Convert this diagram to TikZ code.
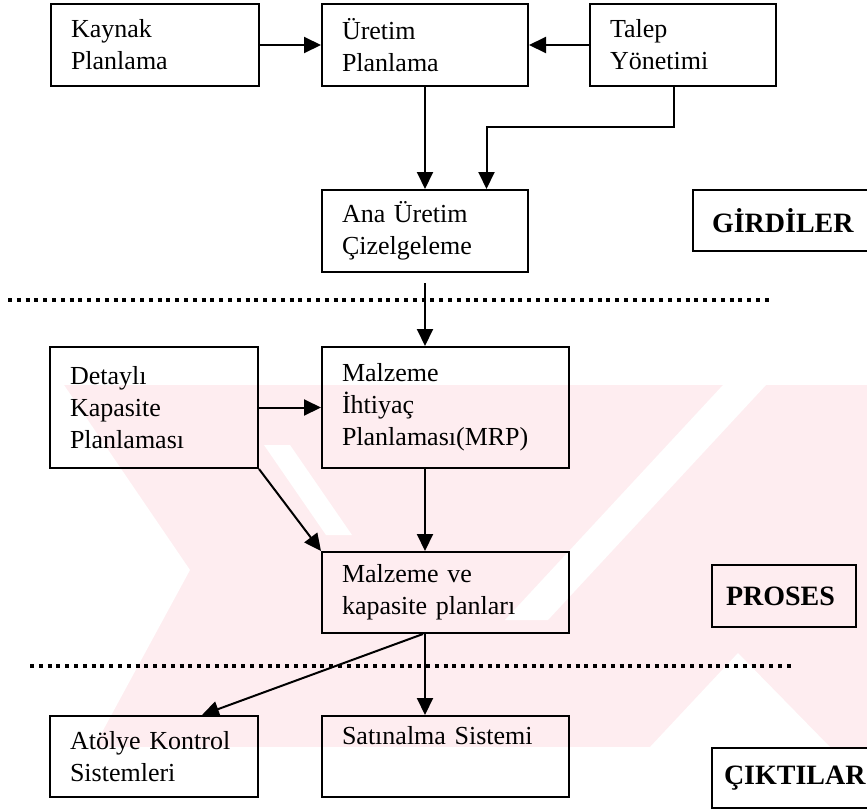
\documentclass[tikz,border=0pt]{standalone}
\usepackage{fontspec}
\setmainfont{Liberation Serif}
\usetikzlibrary{positioning,arrows.meta}
\definecolor{wmpink}{RGB}{254,237,240}
\tikzset{
  >={Triangle[length=8.5pt,width=8pt]},
  blok/.style={draw,line width=1pt,rectangle,align=left,anchor=north west,
    inner xsep=10pt,inner ysep=0pt,minimum height=41pt,
    font=\fontsize{13}{16}\selectfont},
  etiket/.style={draw,line width=1pt,rectangle,align=left,anchor=north west,
    inner ysep=0pt,minimum height=30.5pt,
    font=\fontsize{14}{16}\selectfont\bfseries},
  ayrac/.style={line width=1.8pt,dash pattern=on 2pt off 2.4pt},
  ok/.style={->,line width=1pt},
}

\begin{document}
\begin{tikzpicture}[x=0.5pt,y=-0.5pt]
  \useasboundingbox (0,0) rectangle (867,809);
  \clip (0,0) rectangle (867,809);
  % soluk filigran
  \fill[wmpink] (63,385) rectangle (867,747);
  \fill[white] (55,385) -- (64,385) -- (190,570) -- (94,747) -- (55,747) -- cycle;
  \fill[white] (264,445) -- (290,445) -- (352,535) -- (326,535) -- cycle;
  \fill[white] (723,385) -- (766,385) -- (548,620) -- (505,620) -- cycle;
  \fill[white] (738,653) -- (830,747) -- (650,747) -- cycle;

  % girdiler
  \node[blok,text width=84pt] (K) at (50,3) {Kaynak\\Planlama};
  \node[blok,text width=83pt,right=30.5pt of K,anchor=west] (U) {Üretim\\Planlama};
  \node[blok,text width=73pt,right=30pt of U,anchor=west] (T) {Talep\\Yönetimi};
  \node[blok,text width=83pt,below=51pt of U.south west,anchor=north west] (A) {Ana Üretim\\Çizelgeleme};
  \node[etiket,text width=76.5pt,inner xsep=9.5pt,right=81.5pt of A.north east,anchor=north west] (G) {GİRDİLER};

  % proses
  \node[blok,text width=103.5pt,minimum height=60.5pt,below=36.5pt of A.south west,anchor=north west] (M) {Malzeme\\İhtiyaç\\Planlaması(MRP)};
  \node[blok,text width=84pt,minimum height=60.5pt,left=31pt of M,anchor=east] (D) {Detaylı\\Kapasite\\Planlaması};
  \node[blok,text width=103.5pt,minimum height=40.5pt,below=41pt of M.south west,anchor=north west] (P) {Malzeme ve\\kapasite planları};
  \node[etiket,text width=58pt,inner xsep=7pt,minimum height=31pt] (PR) at (711,564) {PROSES};

  % çıktılar
  \node[blok,text width=103.5pt,minimum height=40.5pt,below=40.5pt of P.south west,anchor=north west] (S) {Satınalma Sistemi\\\strut};
  \node[blok,text width=84pt,minimum height=40.5pt,left=31pt of S,anchor=east] (AK) {Atölye Kontrol\\Sistemleri};
  \node[etiket,text width=72.5pt,inner xsep=6pt,minimum height=30pt] (C) at (711,747) {ÇIKTILAR};

  % ayraçlar
  \draw[ayrac] (8,300) -- (772,300);
  \draw[ayrac] (30,666) -- (793,666);

  % oklar
  \draw[ok] (K) -- (U);
  \draw[ok] (T) -- (U);
  \draw[ok] (U) -- (A);
  \draw[ok] ([xshift=-4.5pt]T.south) -- ++(0,-20pt) -| ([xshift=30.75pt]A.north);
  \draw[ok,shorten <=5pt] (A.south) -- (A.south |- M.north);
  \draw[ok] (D) -- (M);
  \draw[ok] (A.south |- M.south) -- (A.south |- P.north);
  \draw[ok] (D.south east) -- (P.north west);
  \draw[ok] (A.south |- P.south) -- (A.south |- S.north);
  \draw[ok] ([xshift=-1pt]A.south |- P.south) -- ([xshift=24pt]AK.north);
\end{tikzpicture}
\end{document}
